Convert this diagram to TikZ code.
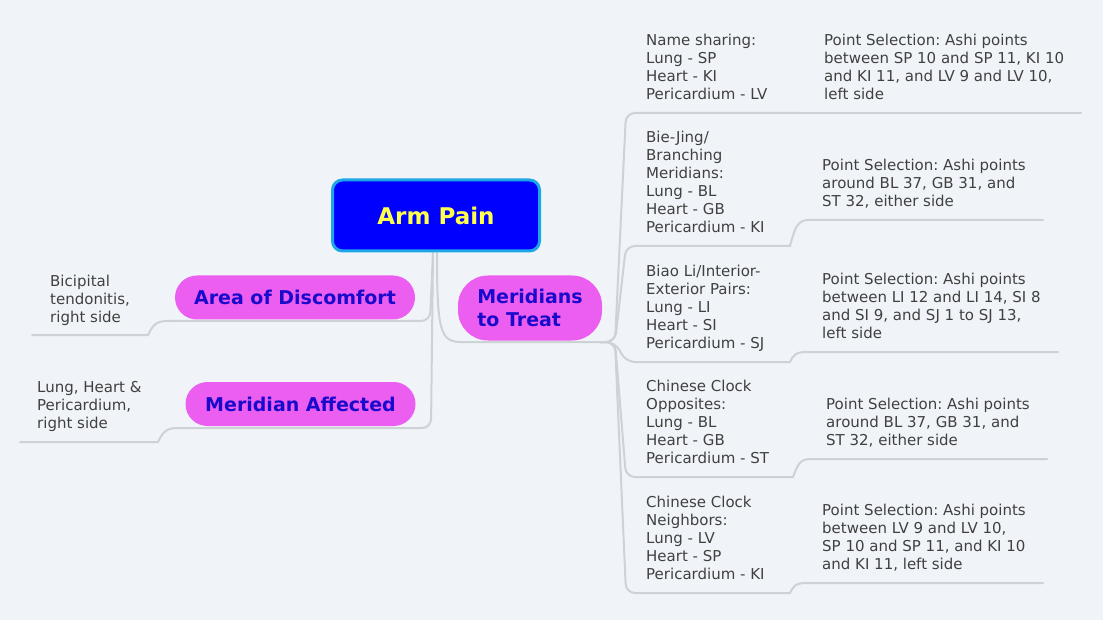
\documentclass[tikz,border=0pt]{standalone}
\usepackage{fontspec}
\setmainfont{DejaVu Sans}
\frenchspacing
\definecolor{bg}{RGB}{240,244,248}
\definecolor{connc}{RGB}{205,210,214}
\definecolor{txtc}{RGB}{64,64,64}
\definecolor{pillc}{RGB}{236,94,240}
\definecolor{pilltxt}{RGB}{26,10,204}
\definecolor{rootfill}{RGB}{0,0,255}
\definecolor{rootborder}{RGB}{30,167,232}
\definecolor{roottxt}{RGB}{255,255,77}
\begin{document}
\begin{tikzpicture}[x=1pt,y=-1pt,
  conn/.style={draw=connc,line width=2pt,rounded corners=9pt,line cap=round},
  link/.style={draw=connc,line width=2pt,line cap=round},
  leaf/.style={anchor=north west,inner sep=0pt,align=left,text=txtc,font=\fontsize{15}{18}\selectfont},
  pillbox/.style={fill=pillc,text=pilltxt,font=\bfseries\fontsize{19}{23}\selectfont,inner sep=0pt,minimum height=44pt,rounded corners=22pt},
  rootbox/.style={fill=rootfill,draw=rootborder,line width=3pt,text=roottxt,font=\bfseries\fontsize{23}{27}\selectfont,rounded corners=10pt,minimum width=207pt,minimum height=71pt,inner sep=0pt}
]
\fill[bg] (0,0) rectangle (1103,620);
\useasboundingbox (0,0) rectangle (1103,620);

% junction coordinates
\coordinate (rL) at (433,253);
\coordinate (rR) at (437,253);
\coordinate (aodB) at (168,321);
\coordinate (aodK) at (148,335);
\coordinate (aodE) at (32,335);
\coordinate (maB) at (178,428);
\coordinate (maK) at (158,442);
\coordinate (maE) at (20,442);
\coordinate (mt0) at (600,342);
\coordinate (c1e) at (800,113);
\coordinate (g1e) at (1081,113);
\coordinate (c2e) at (790,246);
\coordinate (g2s) at (808,220);
\coordinate (g2e) at (1043,220);
\coordinate (c3e) at (790,362);
\coordinate (g3s) at (806,352);
\coordinate (g3e) at (1058,352);
\coordinate (c4e) at (793,477);
\coordinate (g4s) at (810,459);
\coordinate (g4e) at (1047,459);
\coordinate (c5e) at (790,593);
\coordinate (g5s) at (806,583);
\coordinate (g5e) at (1043,583);

% connectors: left side
\draw[conn] (rL) -- (430,321) -- (aodB);
\draw[link] (aodB) .. controls (156,321) and (153,325) .. (aodK) -- (aodE);
\draw[conn] (rL) -- (431,428) -- (maB);
\draw[link] (maB) .. controls (166,428) and (163,432) .. (maK) -- (maE);
% right side
\draw[conn] (rR) .. controls (437,330) and (440,342) .. (470,342) -- (mt0);
\draw[conn] (mt0) -- (615,342) -- (626,113) -- (c1e);
\draw[link] (c1e) -- (g1e);
\draw[conn] (mt0) -- (615,342) -- (626,246) -- (c2e);
\draw[link] (c2e) .. controls (794,232) and (796,220) .. (g2s) -- (g2e);
\draw[conn] (mt0) -- (615,342) -- (626,362) -- (c3e);
\draw[link] (c3e) .. controls (793,356) and (795,352) .. (g3s) -- (g3e);
\draw[conn] (mt0) -- (615,342) -- (626,477) -- (c4e);
\draw[link] (c4e) .. controls (797,467) and (799,459) .. (g4s) -- (g4e);
\draw[conn] (mt0) -- (615,342) -- (626,593) -- (c5e);
\draw[link] (c5e) .. controls (793,587) and (795,583) .. (g5s) -- (g5e);

% main nodes
\node[rootbox] (root) at (436,215.5) {Arm Pain};
\node[pillbox,minimum width=240pt] (aod) at (295,297.5) {Area of Discomfort};
\node[pillbox,minimum width=230pt] (ma) at (300.5,404) {Meridian Affected};
\node[pillbox,minimum width=144pt,minimum height=65pt,rounded corners=30pt,align=left] (mt) at (530,308) {Meridians\\to Treat};

% leaves left
\node[leaf] (bic) at (50,275) {Bicipital\\tendonitis,\\right side};
\node[leaf] (lhp) at (37,381) {Lung, Heart \&\\Pericardium,\\right side};

% children right
\node[leaf] (c1) at (646,34) {Name sharing:\\Lung - SP\\Heart - KI\\Pericardium - LV};
\node[leaf] (c2) at (646,131) {Bie-Jing/\\Branching\\Meridians:\\Lung - BL\\Heart - GB\\Pericardium - KI};
\node[leaf] (c3) at (646,265) {Biao Li/Interior-\\Exterior Pairs:\\Lung - LI\\Heart - SI\\Pericardium - SJ};
\node[leaf] (c4) at (646,380) {Chinese Clock\\Opposites:\\Lung - BL\\Heart - GB\\Pericardium - ST};
\node[leaf] (c5) at (646,496) {Chinese Clock\\Neighbors:\\Lung - LV\\Heart - SP\\Pericardium - KI};

% grandchildren
\node[leaf] (g1) at (824,34) {Point Selection: Ashi points\\between SP 10 and SP 11, KI 10\\and KI 11, and LV 9 and LV 10,\\left side};
\node[leaf] (g2) at (822,159) {Point Selection: Ashi points\\around BL 37, GB 31, and\\ST 32, either side};
\node[leaf] (g3) at (822,273) {Point Selection: Ashi points\\between LI 12 and LI 14, SI 8\\and SI 9, and SJ 1 to SJ 13,\\left side};
\node[leaf] (g4) at (826,398) {Point Selection: Ashi points\\around BL 37, GB 31, and\\ST 32, either side};
\node[leaf] (g5) at (822,504) {Point Selection: Ashi points\\between LV 9 and LV 10,\\SP 10 and SP 11, and KI 10\\and KI 11, left side};
\end{tikzpicture}
\end{document}
